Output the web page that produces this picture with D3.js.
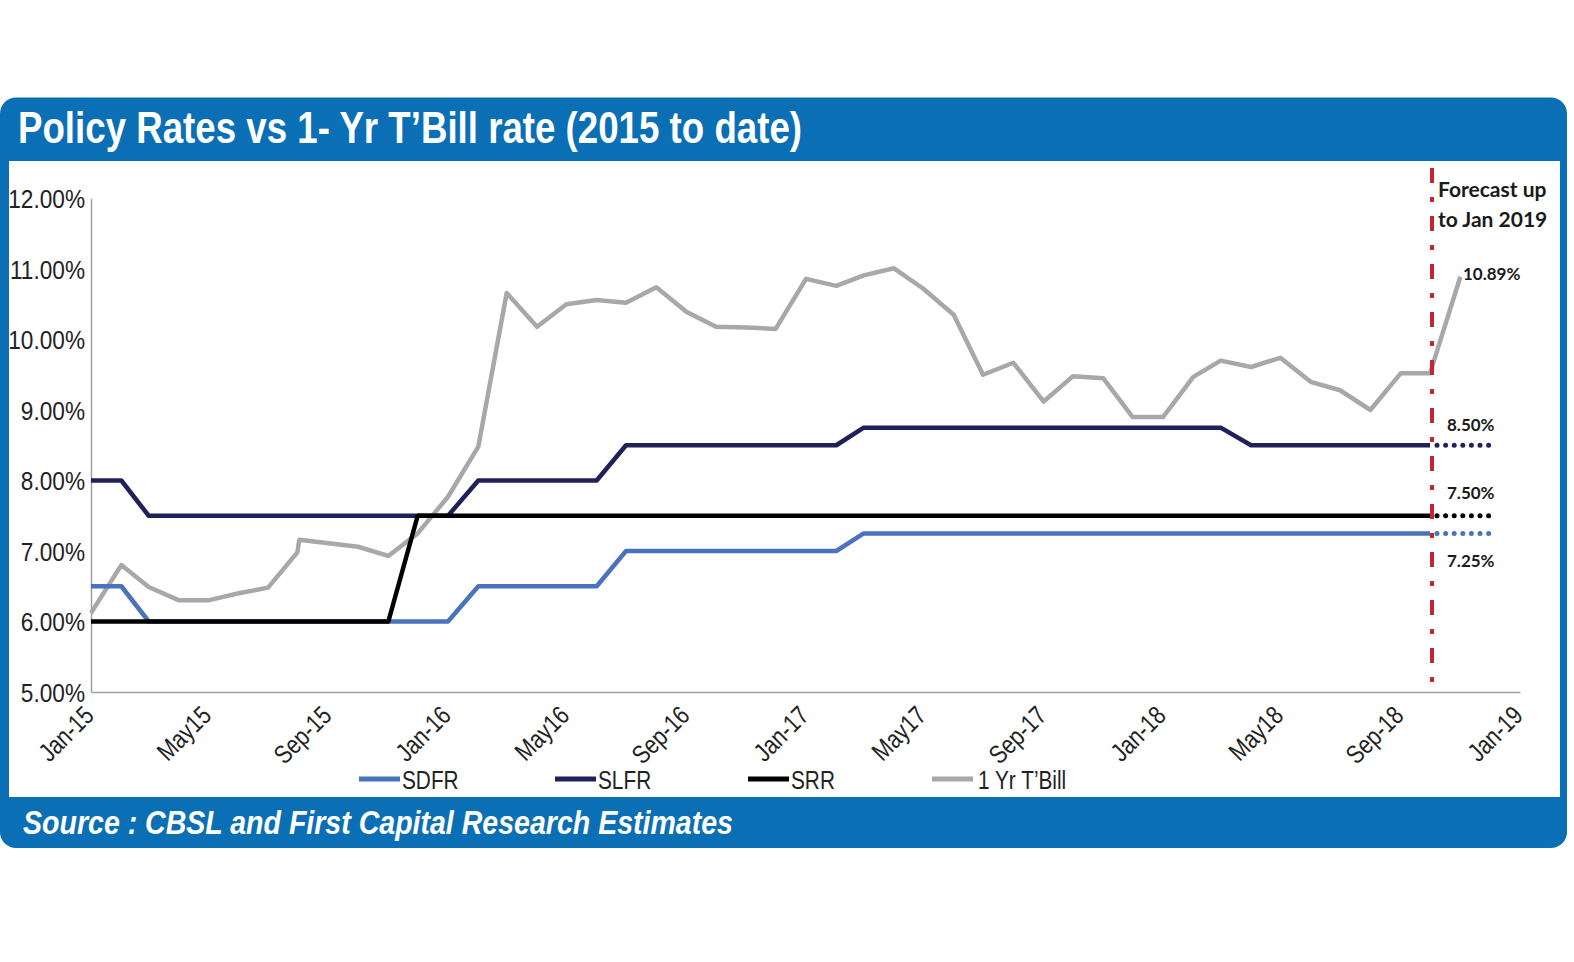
<!DOCTYPE html>
<html><head><meta charset="utf-8">
<script src="https://cdn.jsdelivr.net/npm/d3@7"></script>
<style>body{margin:0;background:#fff;} svg{display:block;}</style>
</head><body><svg id="c" width="1574" height="962"></svg>
<script>
// ---------------- DATA ----------------
const title = "Policy Rates vs 1- Yr T\u2019Bill rate (2015 to date)";
const sourceText = "Source : CBSL and First Capital Research Estimates";

const policyMonths = ["2015-01","2015-02","2015-03","2015-04","2015-05","2015-06","2015-07","2015-08","2015-09","2015-10","2015-11","2015-12",
  "2016-01","2016-02","2016-03","2016-04","2016-05","2016-06","2016-07","2016-08","2016-09","2016-10","2016-11","2016-12",
  "2017-01","2017-02","2017-03","2017-04","2017-05","2017-06","2017-07","2017-08","2017-09","2017-10","2017-11","2017-12",
  "2018-01","2018-02","2018-03","2018-04","2018-05","2018-06","2018-07","2018-08","2018-09","2018-10"];

const sdfr = [6.5,6.5,6,6,6,6,6,6,6,6,6,6,
  6,6.5,6.5,6.5,6.5,6.5,7,7,7,7,7,7,
  7,7,7.25,7.25,7.25,7.25,7.25,7.25,7.25,7.25,7.25,7.25,
  7.25,7.25,7.25,7.25,7.25,7.25,7.25,7.25,7.25,7.25];
const slfr = [8,8,7.5,7.5,7.5,7.5,7.5,7.5,7.5,7.5,7.5,7.5,
  7.5,8,8,8,8,8,8.5,8.5,8.5,8.5,8.5,8.5,
  8.5,8.5,8.75,8.75,8.75,8.75,8.75,8.75,8.75,8.75,8.75,8.75,
  8.75,8.75,8.75,8.5,8.5,8.5,8.5,8.5,8.5,8.5];
const srr = [6,6,6,6,6,6,6,6,6,6,6,7.5,
  7.5,7.5,7.5,7.5,7.5,7.5,7.5,7.5,7.5,7.5,7.5,7.5,
  7.5,7.5,7.5,7.5,7.5,7.5,7.5,7.5,7.5,7.5,7.5,7.5,
  7.5,7.5,7.5,7.5,7.5,7.5,7.5,7.5,7.5,7.5];

const tbillDates = ["2015-01-01","2015-02-01","2015-03-01","2015-04-01","2015-05-01","2015-06-01","2015-07-01","2015-07-31","2015-08-02",
  "2015-09-01","2015-10-01","2015-11-01","2015-12-01","2016-01-01","2016-02-01","2016-03-01","2016-04-01","2016-05-01","2016-06-01",
  "2016-07-01","2016-08-01","2016-09-01","2016-10-01","2016-11-01","2016-12-01","2017-01-01","2017-02-01","2017-03-01","2017-04-01",
  "2017-05-01","2017-06-01","2017-07-01","2017-08-01","2017-09-01","2017-10-01","2017-11-01","2017-12-01","2018-01-01","2018-02-01",
  "2018-03-01","2018-04-01","2018-05-01","2018-06-01","2018-07-01","2018-08-01","2018-09-01","2018-10-01","2018-11-01"];
const tbill = [6.12,6.80,6.49,6.30,6.30,6.40,6.48,6.98,7.16,
  7.11,7.06,6.93,7.25,7.77,8.48,10.66,10.18,10.50,10.56,
  10.52,10.74,10.39,10.18,10.17,10.15,10.86,10.76,10.91,11.01,
  10.72,10.35,9.50,9.67,9.12,9.48,9.45,8.90,8.90,9.47,
  9.70,9.61,9.74,9.40,9.28,9.00,9.52,9.52,10.89];

const forecastMonths = ["2018-10","2018-11","2018-12"];
const sdfrForecast = [7.25,7.25,7.25];
const slfrForecast = [8.5,8.5,8.5];
const srrForecast = [7.5,7.5,7.5];

const yTicks = [5,6,7,8,9,10,11,12];
const xTickMonths = ["2015-01","2015-05","2015-09","2016-01","2016-05","2016-09","2017-01","2017-05","2017-09","2018-01","2018-05","2018-09","2019-01"];
const xTickLabels = ["Jan-15","May15","Sep-15","Jan-16","May16","Sep-16","Jan-17","May17","Sep-17","Jan-18","May18","Sep-18","Jan-19"];

const seriesNames = ["SDFR","SLFR","SRR","1 Yr T\u2019Bill"];
const seriesColors = ["#4a73bd","#20205a","#000000","#a8a8a8"];

const forecastLabel = ["Forecast up","to Jan 2019"];
const forecastMonth = "2018-10";
const endLabels = [{v:10.89,t:"10.89%"},{v:8.5,t:"8.50%"},{v:7.5,t:"7.50%"},{v:7.25,t:"7.25%"}];

// ---------------- DRAW ----------------
const svg = d3.select("#c");
const BLUE = "#0b6fb5";
const SANS = "'Liberation Sans',Arial,Helvetica,sans-serif";
const parseM = d3.timeParse("%Y-%m");
const parseD = d3.timeParse("%Y-%m-%d");

// squeeze text horizontally to mimic a condensed face
function condense(sel, f){
  sel.each(function(){
    const w = this.getComputedTextLength();
    d3.select(this).attr("textLength", w*f).attr("lengthAdjust","spacingAndGlyphs");
  });
}

// frame
svg.append("rect").attr("x",0).attr("y",97.5).attr("width",1567).attr("height",750.5).attr("rx",16).attr("fill",BLUE);
svg.append("rect").attr("x",9).attr("y",161).attr("width",1551).attr("height",636).attr("fill","#fff");

svg.append("text").attr("x",18).attr("y",143).text(title)
  .attr("font-family",SANS).attr("font-weight","bold").attr("font-size",44).attr("fill","#fff")
  .attr("textLength",784).attr("lengthAdjust","spacingAndGlyphs");
svg.append("text").attr("x",23).attr("y",834).text(sourceText)
  .attr("font-family",SANS).attr("font-weight","bold").attr("font-style","italic").attr("font-size",34).attr("fill","#fff")
  .attr("textLength",710).attr("lengthAdjust","spacingAndGlyphs");

const x = d3.scaleTime().domain([parseM("2015-01"), parseM("2019-01")]).range([91, 1520]);
const y = d3.scaleLinear().domain([5, 12]).range([692, 198.5]);

// axes
const xAxis = svg.append("g").attr("transform","translate(0,692)")
  .call(d3.axisBottom(x).tickValues(xTickMonths.map(parseM)).tickFormat((d,i)=>xTickLabels[i]).tickSize(0));
xAxis.select(".domain").attr("stroke","#a0a0a0").attr("stroke-width",1.5);
xAxis.selectAll("text").attr("x",0).attr("y",0).attr("dy",0)
  .attr("transform","translate(4,25) rotate(-45)").attr("text-anchor","end")
  .attr("font-family",SANS).attr("font-size",26).attr("fill","#222");
condense(xAxis.selectAll("text"),0.82);

const yAxis = svg.append("g").attr("transform","translate(91,0)")
  .call(d3.axisLeft(y).tickValues(yTicks).tickFormat(d=>d.toFixed(2)+"%").tickSize(0).tickPadding(6));
yAxis.select(".domain").attr("stroke","#a0a0a0").attr("stroke-width",1.5);
yAxis.selectAll("text").attr("font-family",SANS).attr("font-size",26).attr("fill","#222").attr("dy","0.36em");
condense(yAxis.selectAll("text"),0.87);

// lines
const line = d3.line().x(d=>x(d[0])).y(d=>y(d[1]));
const pm = policyMonths.map(parseM);
const plot = svg.append("g").attr("fill","none").attr("stroke-linejoin","round");
plot.append("path").datum(tbillDates.map((d,i)=>[parseD(d),tbill[i]])).attr("d",line)
  .attr("stroke",seriesColors[3]).attr("stroke-width",4.5);
plot.append("path").datum(pm.map((d,i)=>[d,sdfr[i]])).attr("d",line).attr("stroke",seriesColors[0]).attr("stroke-width",4.5);
plot.append("path").datum(pm.map((d,i)=>[d,slfr[i]])).attr("d",line).attr("stroke",seriesColors[1]).attr("stroke-width",4.5);
plot.append("path").datum(pm.map((d,i)=>[d,srr[i]])).attr("d",line).attr("stroke",seriesColors[2]).attr("stroke-width",4.5);

// forecast dotted
const fm = forecastMonths.map(parseM);
[[slfrForecast,1],[srrForecast,2],[sdfrForecast,0]].forEach(([arr,ci])=>{
  plot.append("path").datum(fm.map((d,i)=>[d,arr[i]])).attr("d",line)
    .attr("stroke",seriesColors[ci]).attr("stroke-width",5).attr("stroke-linecap","round")
    .attr("stroke-dasharray","0,8.6").attr("transform","translate(7,0)");
});

// forecast red line
const fx = x(parseM(forecastMonth)) + 2;
svg.append("line").attr("x1",fx).attr("x2",fx).attr("y1",168).attr("y2",685)
  .attr("stroke","#c4262e").attr("stroke-width",4).attr("stroke-dasharray","15,14,5,14");

const anno = svg.append("g").attr("font-family","Lato, 'Open Sans', sans-serif").attr("font-weight","bold").attr("fill","#1a1a1a");
forecastLabel.forEach((t,i)=>anno.append("text").attr("x",fx+6).attr("y",197+i*30).attr("font-size",21).text(t));
anno.append("text").attr("x",fx+31).attr("y",y(endLabels[0].v)+3).attr("font-size",17).text(endLabels[0].t);
anno.append("text").attr("x",fx+15).attr("y",y(endLabels[1].v)-14).attr("font-size",17).text(endLabels[1].t);
anno.append("text").attr("x",fx+15).attr("y",y(endLabels[2].v)-17).attr("font-size",17).text(endLabels[2].t);
anno.append("text").attr("x",fx+15).attr("y",y(endLabels[3].v)+34).attr("font-size",17).text(endLabels[3].t);

// legend
const legX = [359,555,748,932];
const leg = svg.append("g");
seriesNames.forEach((n,i)=>{
  leg.append("line").attr("x1",legX[i]).attr("x2",legX[i]+41).attr("y1",779).attr("y2",779)
    .attr("stroke",seriesColors[i]).attr("stroke-width",5);
  const t = leg.append("text").attr("x",legX[i]+43 + (i===3?3:0)).attr("y",789).text(n)
    .attr("font-family",SANS).attr("font-size",26).attr("fill","#222");
  condense(t,0.8);
});
</script></body></html>
